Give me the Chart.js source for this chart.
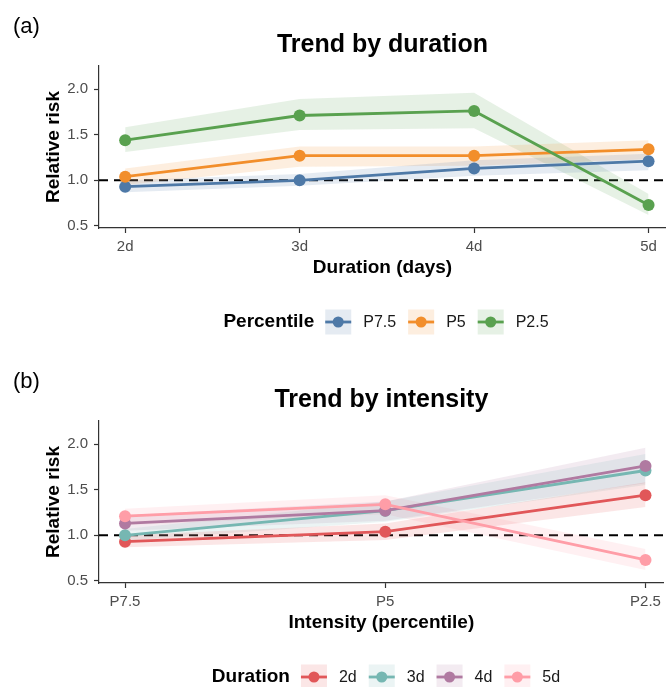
<!DOCTYPE html>
<html>
<head>
<meta charset="utf-8">
<script src="https://cdn.jsdelivr.net/npm/chart.js@4.4.1/dist/chart.umd.min.js"></script>
<style>
  html, body { margin: 0; padding: 0; background: #fff; overflow: hidden; }
  .panel { width: 666px; height: 355px; }
</style>
</head>
<body>
<div class="panel"><canvas id="chartA" width="666" height="355"></canvas></div>
<div class="panel"><canvas id="chartB" width="666" height="355"></canvas></div>
<script>
var durations = ['2d', '3d', '4d', '5d'];
var percentiles = ['P7.5', 'P5', 'P2.5'];
var yTicks = [0.5, 1.0, 1.5, 2.0];
var refValue = 1.0;

// relative risk by duration, one array per percentile
var rrP75 = [0.93, 1.00, 1.13, 1.21];
var rrP5  = [1.04, 1.27, 1.27, 1.34];
var rrP25 = [1.44, 1.71, 1.76, 0.73];

// confidence bands
var loP75 = [0.87, 0.94, 1.05, 1.11];
var hiP75 = [1.00, 1.07, 1.22, 1.29];
var loP5  = [0.95, 1.15, 1.16, 1.23];
var hiP5  = [1.13, 1.37, 1.37, 1.44];
var loP25 = [1.31, 1.55, 1.57, 0.62];
var hiP25 = [1.58, 1.89, 1.96, 0.85];

var pctColors = ['#4E79A7', '#F28E2B', '#59A14F'];
var durColors = ['#E15759', '#76B7B2', '#B07AA1', '#FF9DA7'];

var FONT = "'Liberation Sans', Arial, sans-serif";

function rgba(hex, a) {
  var n = parseInt(hex.slice(1), 16);
  return 'rgba(' + (n >> 16) + ',' + ((n >> 8) & 255) + ',' + (n & 255) + ',' + a + ')';
}
function pts(arr) {
  return arr.map(function(v, i) { return {x: i, y: v}; });
}

// panel (a): one series per percentile
var seriesA = [
  {name: percentiles[0], rr: rrP75, lo: loP75, hi: hiP75},
  {name: percentiles[1], rr: rrP5,  lo: loP5,  hi: hiP5},
  {name: percentiles[2], rr: rrP25, lo: loP25, hi: hiP25}
];
// panel (b): same numbers, one series per duration
var seriesB = durations.map(function(d, j) {
  return {
    name: d,
    rr: seriesA.map(function(s) { return s.rr[j]; }),
    lo: seriesA.map(function(s) { return s.lo[j]; }),
    hi: seriesA.map(function(s) { return s.hi[j]; })
  };
});

var extras = {
  id: 'extras',
  beforeDatasetsDraw: function(chart) {
    var ctx = chart.ctx, a = chart.chartArea;
    var y = chart.scales.y.getPixelForValue(refValue);
    ctx.save();
    ctx.beginPath();
    ctx.rect(a.left, a.top, a.right - a.left, a.bottom - a.top);
    ctx.clip();
    ctx.strokeStyle = '#000';
    ctx.lineWidth = 2;
    ctx.setLineDash([9, 6]);
    ctx.beginPath();
    ctx.moveTo(a.left, y);
    ctx.lineTo(a.right, y);
    ctx.stroke();
    ctx.restore();
  },
  afterDraw: function(chart, args, opts) {
    var ctx = chart.ctx;
    ctx.save();
    // panel tag
    ctx.fillStyle = '#000';
    ctx.font = '22px ' + FONT;
    ctx.textBaseline = 'middle';
    ctx.textAlign = 'left';
    ctx.fillText(opts.tag, 13, 27);

    // legend
    var keys = chart.data.datasets.filter(function(d) { return d.isKey; });
    ctx.font = 'bold 19px ' + FONT;
    var titleW = ctx.measureText(opts.legendTitle).width;
    ctx.font = '16px ' + FONT;
    var widths = keys.map(function(d) { return ctx.measureText(d.label).width; });
    var boxW = 26, boxH = 25;
    var total = titleW + 11;
    widths.forEach(function(w, i) { total += boxW + 12 + w + (i < widths.length - 1 ? 12 : 0); });
    var x = opts.legendCenter - total / 2;
    var cy = opts.legendY;
    ctx.fillStyle = '#000';
    ctx.font = 'bold 19px ' + FONT;
    ctx.fillText(opts.legendTitle, x, cy);
    x += titleW + 11;
    keys.forEach(function(d, i) {
      ctx.fillStyle = d.bandColor;
      ctx.fillRect(x, cy - boxH / 2, boxW, boxH);
      ctx.strokeStyle = d.borderColor;
      ctx.lineWidth = 2.8;
      ctx.beginPath();
      ctx.moveTo(x, cy);
      ctx.lineTo(x + boxW, cy);
      ctx.stroke();
      ctx.fillStyle = d.borderColor;
      ctx.beginPath();
      ctx.arc(x + boxW / 2, cy, 5.5, 0, Math.PI * 2);
      ctx.fill();
      x += boxW + 12;
      ctx.fillStyle = '#1a1a1a';
      ctx.font = '16px ' + FONT;
      ctx.fillText(d.label, x, cy + 1);
      x += widths[i] + 12;
    });
    ctx.restore();
  }
};

function makeChart(id, cfg) {
  var datasets = [];
  var n = cfg.series.length;
  cfg.series.forEach(function(s, i) {
    var c = cfg.colors[i];
    datasets.push({
      data: pts(s.lo), borderColor: 'rgba(0,0,0,0)', borderWidth: 0,
      pointRadius: 0, fill: false, order: 100 + i
    });
    datasets.push({
      data: pts(s.hi), borderColor: 'rgba(0,0,0,0)', borderWidth: 0,
      pointRadius: 0, fill: '-1', backgroundColor: rgba(c, 0.15), order: 100 + i
    });
  });
  cfg.series.forEach(function(s, i) {
    var c = cfg.colors[i];
    datasets.push({
      label: s.name, data: pts(s.rr), isKey: true, bandColor: rgba(c, 0.15),
      borderColor: c, backgroundColor: c, borderWidth: 2.8,
      pointRadius: 6, pointBorderWidth: 0, pointBackgroundColor: c,
      fill: false, order: n - i
    });
  });

  return new Chart(document.getElementById(id), {
    type: 'line',
    data: {datasets: datasets},
    plugins: [extras],
    options: {
      responsive: false,
      animation: false,
      devicePixelRatio: 1,
      elements: {line: {tension: 0}},
      layout: {autoPadding: false, padding: {left: 42, right: 0, top: 0, bottom: 76}},
      scales: {
        x: {
          type: 'linear', min: cfg.xMin, max: cfg.xMax,
          afterBuildTicks: function(scale) {
            scale.ticks = cfg.labels.map(function(l, i) { return {value: i}; });
          },
          afterFit: function(scale) { scale.height = 51; },
          ticks: {
            callback: function(v) { return cfg.labels[v]; },
            font: {family: FONT, size: 15}, color: '#4D4D4D', padding: 5, maxRotation: 0
          },
          grid: {drawOnChartArea: false, tickLength: 5, tickColor: '#333', tickWidth: 1.2},
          border: {display: true, color: '#333', width: 1.2},
          title: {
            display: true, text: cfg.xTitle, color: '#000', padding: 0,
            font: {family: FONT, size: 19, weight: 'bold'}
          }
        },
        y: {
          min: 0.478, max: 2.252,
          afterBuildTicks: function(scale) {
            scale.ticks = yTicks.map(function(v) { return {value: v}; });
          },
          afterFit: function(scale) { scale.width = 57; },
          ticks: {
            callback: function(v) { return v.toFixed(1); },
            font: {family: FONT, size: 15}, color: '#4D4D4D', padding: 6
          },
          grid: {drawOnChartArea: false, tickLength: 5, tickColor: '#333', tickWidth: 1.2},
          border: {display: true, color: '#333', width: 1.2},
          title: {
            display: true, text: 'Relative risk', color: '#000', padding: 0,
            font: {family: FONT, size: 19, weight: 'bold'}
          }
        }
      },
      plugins: {
        legend: {display: false},
        tooltip: {enabled: false},
        title: {
          display: true, text: cfg.title, fullSize: false, color: '#000',
          font: {family: FONT, size: 25, weight: 'bold'},
          padding: {top: 30, bottom: 6}
        },
        extras: {tag: cfg.tag, legendTitle: cfg.legendTitle, legendCenter: 386, legendY: 322}
      }
    }
  });
}

makeChart('chartA', {
  tag: '(a)', title: 'Trend by duration', xTitle: 'Duration (days)',
  legendTitle: 'Percentile', labels: durations, series: seriesA, colors: pctColors,
  xMin: -0.15, xMax: 3.1
});
makeChart('chartB', {
  tag: '(b)', title: 'Trend by intensity', xTitle: 'Intensity (percentile)',
  legendTitle: 'Duration', labels: percentiles, series: seriesB, colors: durColors,
  xMin: -0.1, xMax: 2.07
});
</script>
</body>
</html>
